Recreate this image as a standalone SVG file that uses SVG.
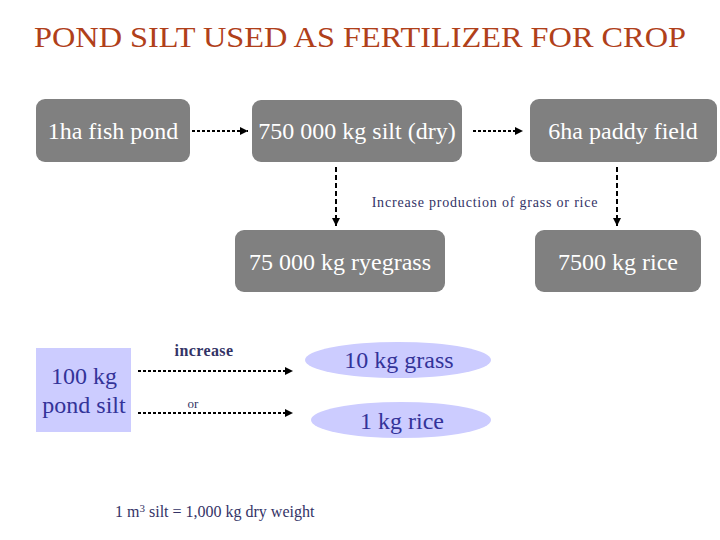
<svg xmlns="http://www.w3.org/2000/svg" width="720" height="540" viewBox="0 0 720 540">
<style>
.box{fill:#808080;}
.bt{font-size:24px;fill:#ffffff;text-anchor:middle;}
.lt{fill:#333366;}
.blue{fill:#ccccff;}
.bluet{font-size:24px;fill:#333399;text-anchor:middle;}
.con{stroke:#000;stroke-width:2;fill:none;}
.dot{stroke-dasharray:3 2;}
.dash{stroke-dasharray:5 3;}
</style>
<defs>
<marker id="ah" viewBox="0 0 10 10" refX="10" refY="5" markerWidth="4" markerHeight="4" orient="auto" markerUnits="strokeWidth">
<path d="M0,0 L10,5 L0,10 z" fill="#000"/>
</marker>
</defs>
<rect width="720" height="540" fill="#ffffff"/>
<text x="360" y="47" style="font-family:'Liberation Serif',serif" text-anchor="middle" font-size="30" fill="#b0401a" textLength="652" lengthAdjust="spacingAndGlyphs">POND SILT USED AS FERTILIZER FOR CROP</text>
<g id="n1"><rect class="box" x="36" y="99" width="154" height="63" rx="9"/><text class="bt" style="font-family:'Liberation Serif',serif" x="113" y="139">1ha fish pond</text></g>
<g id="n2"><rect class="box" x="252" y="100" width="210" height="62" rx="9"/><text class="bt" style="font-family:'Liberation Serif',serif" x="357" y="139">750 000 kg silt (dry)</text></g>
<g id="n3"><rect class="box" x="530" y="99" width="187" height="63" rx="9"/><text class="bt" style="font-family:'Liberation Serif',serif" x="623" y="139">6ha paddy field</text></g>
<g id="n4"><rect class="box" x="235" y="230" width="210" height="62" rx="9"/><text class="bt" style="font-family:'Liberation Serif',serif" x="340" y="270">75 000 kg ryegrass</text></g>
<g id="n5"><rect class="box" x="535" y="230" width="166" height="62" rx="9"/><text class="bt" style="font-family:'Liberation Serif',serif" x="618" y="270">7500 kg rice</text></g>
<g id="n6"><rect class="blue" x="36" y="348" width="95" height="84"/><text class="bluet" style="font-family:'Liberation Serif',serif" x="84" y="384">100 kg</text><text class="bluet" style="font-family:'Liberation Serif',serif" x="84" y="413">pond silt</text></g>
<g id="n7"><ellipse class="blue" cx="398" cy="360" rx="93" ry="18"/><text class="bluet" style="font-family:'Liberation Serif',serif" x="399" y="368">10 kg grass</text></g>
<g id="n8"><ellipse class="blue" cx="401" cy="420" rx="90" ry="18"/><text class="bluet" style="font-family:'Liberation Serif',serif" x="402" y="429">1 kg rice</text></g>
<g id="connectors">
<line class="con dot" x1="192" y1="131" x2="248" y2="131" marker-end="url(#ah)"/>
<line class="con dot" x1="473" y1="131" x2="523" y2="131" marker-end="url(#ah)"/>
<line class="con dash" x1="336" y1="167" x2="336" y2="226" marker-end="url(#ah)"/>
<line class="con dash" x1="617" y1="167" x2="617" y2="226" marker-end="url(#ah)"/>
<line class="con dot" x1="138" y1="371" x2="293" y2="371" marker-end="url(#ah)"/>
<line class="con dot" x1="138" y1="413" x2="293" y2="413" marker-end="url(#ah)"/>
</g>
<text class="lt" style="font-family:'Liberation Serif',serif" x="485" y="207" font-size="14" letter-spacing="0.8" text-anchor="middle">Increase production of grass or rice</text>
<text class="lt" style="font-family:'Liberation Serif',serif" x="204" y="356" font-size="16" letter-spacing="0.4" font-weight="bold" text-anchor="middle">increase</text>
<text class="lt" style="font-family:'Liberation Serif',serif" x="193" y="408" font-size="13" text-anchor="middle">or</text>
<text class="lt" style="font-family:'Liberation Serif',serif" x="115" y="517" font-size="16">1 m<tspan font-size="11" dy="-5">3</tspan><tspan dy="5"> silt  = 1,000 kg dry weight</tspan></text>
</svg>
